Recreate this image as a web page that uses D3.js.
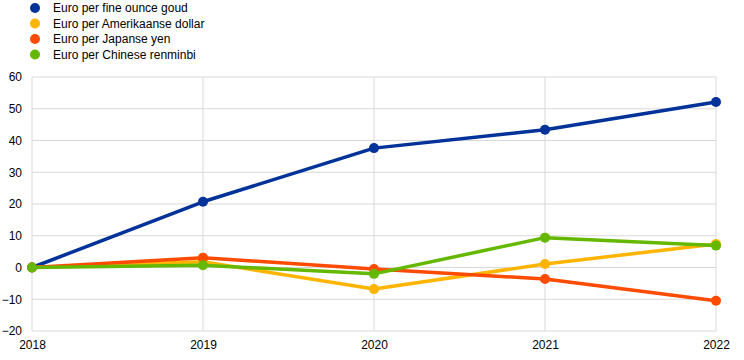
<!DOCTYPE html>
<html lang="en">
<head>
<meta charset="utf-8">
<title>Euro exchange rates</title>
<script src="https://cdnjs.cloudflare.com/ajax/libs/d3/7.8.5/d3.min.js"></script>
<style>
  body { margin: 0; background: #fff; }
  svg { font-family: "Liberation Sans", Arial, sans-serif; }
</style>
</head>
<body>
<script>
// data
var years = [2018, 2019, 2020, 2021, 2022];
var gold = [0, 20.7, 37.6, 43.4, 52.1];
var usd = [0, 1.8, -6.8, 1.1, 7.4];
var jpy = [0, 3.1, -0.5, -3.6, -10.5];
var cny = [0, 0.7, -2.0, 9.4, 6.9];
var seriesNames = ["Euro per fine ounce goud", "Euro per Amerikaanse dollar", "Euro per Japanse yen", "Euro per Chinese renminbi"];
var yTicks = [-20, -10, 0, 10, 20, 30, 40, 50, 60];

var colors = ["#003299", "#FFB400", "#FF4B00", "#65B800"];
var allSeries = [gold, usd, jpy, cny];

var w = 744, h = 360;
var svg = d3.select("body").append("svg").attr("width", w).attr("height", h);

var x = d3.scaleLinear().domain([2018, 2022]).range([32, 716]);
var y = d3.scaleLinear().domain([-20, 60]).range([331, 77]);

// grid
svg.append("g").selectAll("line.h").data(yTicks).enter().append("line")
  .attr("x1", x(2018)).attr("x2", x(2022))
  .attr("y1", function(d) { return y(d); }).attr("y2", function(d) { return y(d); })
  .attr("stroke", "#d9d9d9").attr("stroke-width", 1);
svg.append("g").selectAll("line.v").data(years).enter().append("line")
  .attr("x1", function(d) { return x(d); }).attr("x2", function(d) { return x(d); })
  .attr("y1", y(60)).attr("y2", y(-20))
  .attr("stroke", "#d9d9d9").attr("stroke-width", 1);

// axes (labels only)
var yAxis = svg.append("g").attr("transform", "translate(" + x(2018) + ",0)")
  .call(d3.axisLeft(y).tickValues(yTicks).tickSize(0).tickPadding(10));
yAxis.select(".domain").remove();
yAxis.selectAll("text").attr("font-size", 12).attr("fill", "#000")
  .attr("font-family", "'Liberation Sans', Arial, sans-serif");

var xAxis = svg.append("g").attr("transform", "translate(0," + y(-20) + ")")
  .call(d3.axisBottom(x).tickValues(years).tickFormat(d3.format("d")).tickSize(0).tickPadding(9));
xAxis.select(".domain").remove();
xAxis.selectAll("text").attr("font-size", 12).attr("fill", "#000")
  .attr("font-family", "'Liberation Sans', Arial, sans-serif");

// lines + markers
var line = d3.line()
  .x(function(d, i) { return x(years[i]); })
  .y(function(d) { return y(d); });

allSeries.forEach(function(s, k) {
  svg.append("path").datum(s)
    .attr("d", line)
    .attr("fill", "none")
    .attr("stroke", colors[k])
    .attr("stroke-width", 3.5)
    .attr("stroke-linejoin", "round");
  svg.append("g").selectAll("circle").data(s).enter().append("circle")
    .attr("cx", function(d, i) { return x(years[i]); })
    .attr("cy", function(d) { return y(d); })
    .attr("r", 5)
    .attr("fill", colors[k]);
});

// legend
var legend = svg.append("g").selectAll("g").data(seriesNames).enter().append("g")
  .attr("transform", function(d, i) { return "translate(0," + (8 + i * 15.5) + ")"; });
legend.append("circle").attr("cx", 35).attr("cy", 0).attr("r", 5)
  .attr("fill", function(d, i) { return colors[i]; });
legend.append("text").attr("x", 53).attr("y", 0).attr("dy", "0.35em")
  .attr("font-size", 12).attr("fill", "#000")
  .text(function(d) { return d; });
</script>
</body>
</html>
